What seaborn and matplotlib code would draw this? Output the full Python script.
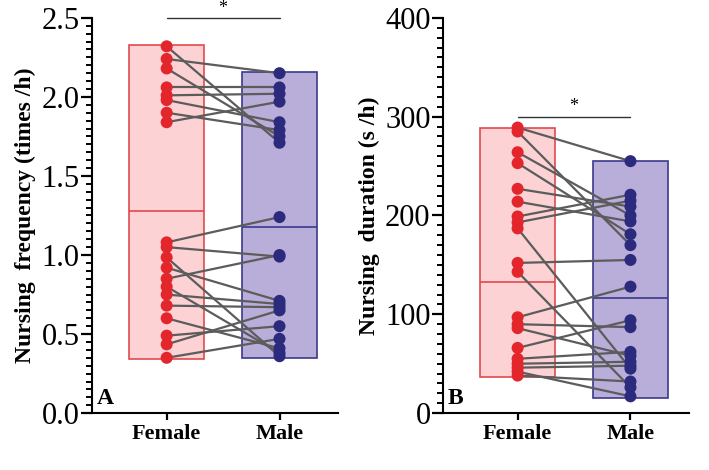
import numpy as np
import pandas as pd
import seaborn as sns
import matplotlib
import matplotlib.pyplot as plt
from matplotlib.ticker import FormatStrFormatter

matplotlib.use("Agg")

# Panel A: nursing frequency (times/h), paired female/male values
freq_female = [2.32, 2.24, 2.18, 2.06, 2.01, 1.98, 1.90, 1.84,
               1.08, 1.05, 0.985, 0.92, 0.85, 0.80, 0.75, 0.68, 0.60, 0.49, 0.435, 0.35]
freq_male = [1.71, 2.15, 1.75, 2.06, 2.02, 1.84, 1.79, 1.97,
             1.24, 0.99, 0.36, 0.71, 1.00, 0.38, 0.69, 0.67, 0.41, 0.55, 0.65, 0.47]

# Panel B: nursing duration (s/h)
dur_female = [289, 285, 264, 253, 227, 214, 199, 193, 187, 152,
              143, 97, 90, 86, 66, 55, 50, 46, 42, 38]
dur_male = [255, 170, 200, 181, 209, 194, 221, 215, 45, 155,
            26, 128, 87, 58, 94, 62, 52, 48, 17, 32]

# bar summaries (range and mean line)
freq_low, freq_high, freq_mean = [0.34, 0.35], [2.33, 2.16], [1.28, 1.18]
dur_low, dur_high, dur_mean = [37, 15], [289, 255], [133, 117]

groups = ["Female", "Male"]

sns.set_style("ticks")
plt.rcParams["font.family"] = ["Liberation Serif", "DejaVu Serif"]
plt.rcParams.update({"text.color": "black", "axes.labelcolor": "black"})

point_col = ["#e3262b", "#2c2a7c"]
fill_col = ["#fcd2d4", "#b8aed9"]
edge_col = ["#e04a4e", "#3c3a8c"]
line_col = "#5c5c5c"
bw = 0.67

fig = plt.figure(figsize=(7.09, 4.70), dpi=100)
axA = fig.add_axes([0.130, 0.121, 0.347, 0.841])
axB = fig.add_axes([0.625, 0.121, 0.347, 0.841])


def panel(ax, fem, mal, low, high, mean, ymax, major, minor, ylabel, letter, sig_y, star_y):
    for i in range(2):
        ax.bar(i, high[i] - low[i], bottom=low[i], width=bw, color=fill_col[i],
               edgecolor=edge_col[i], linewidth=1.2, zorder=1)
        ax.hlines(mean[i], i - bw / 2, i + bw / 2, color=edge_col[i], lw=1.2, zorder=2)

    n = len(fem)
    df = pd.DataFrame({
        "x": [0] * n + [1] * n,
        "y": fem + mal,
        "pair": list(range(n)) * 2,
        "sex": ["Female"] * n + ["Male"] * n,
    })
    sns.lineplot(data=df, x="x", y="y", units="pair", estimator=None,
                 color=line_col, lw=1.6, ax=ax, zorder=3)
    sns.scatterplot(data=df, x="x", y="y", hue="sex", palette=point_col, s=75,
                    edgecolor="none", legend=False, ax=ax, zorder=4)

    sns.despine(ax=ax)
    ax.set_xlim(-0.66, 1.52)
    ax.set_ylim(0, ymax)
    ax.set_xticks([0, 1])
    ax.set_xticklabels(groups, fontsize=16, fontweight="bold")
    ax.set_yticks(np.arange(0, ymax + major / 2, major))
    ax.set_yticks(np.arange(0, ymax + minor / 2, minor), minor=True)
    ax.tick_params(axis="y", which="major", left=True, direction="out", length=8,
                   width=1.6, color="black", labelcolor="black", labelsize=22, pad=1)
    ax.tick_params(axis="y", which="minor", left=True, direction="out", length=4.5,
                   width=1.4, color="black")
    ax.tick_params(axis="x", which="major", bottom=True, direction="out", length=5,
                   width=1.6, color="black", labelcolor="black", pad=3)
    ax.set_xlabel("")
    ax.set_ylabel(ylabel, fontsize=17, fontweight="bold", labelpad=4)
    for s in ["left", "bottom"]:
        ax.spines[s].set_linewidth(1.5)
        ax.spines[s].set_color("black")

    ax.text(0.02, 0.01, letter, transform=ax.transAxes, fontsize=17,
            fontweight="bold", ha="left", va="bottom")
    ax.plot([0, 1], [sig_y, sig_y], color="#333333", lw=1, clip_on=False)
    ax.text(0.5, star_y, "*", ha="center", va="center", fontsize=13, clip_on=False)


panel(axA, freq_female, freq_male, freq_low, freq_high, freq_mean, 2.5, 0.5, 0.05,
      "Nursing  frequency (times /h)", "A", 2.5, 2.56)
axA.yaxis.set_major_formatter(FormatStrFormatter("%.1f"))
panel(axB, dur_female, dur_male, dur_low, dur_high, dur_mean, 400, 100, 10,
      "Nursing  duration (s /h)", "B", 300, 310)

plt.savefig("out.png", dpi=100)
